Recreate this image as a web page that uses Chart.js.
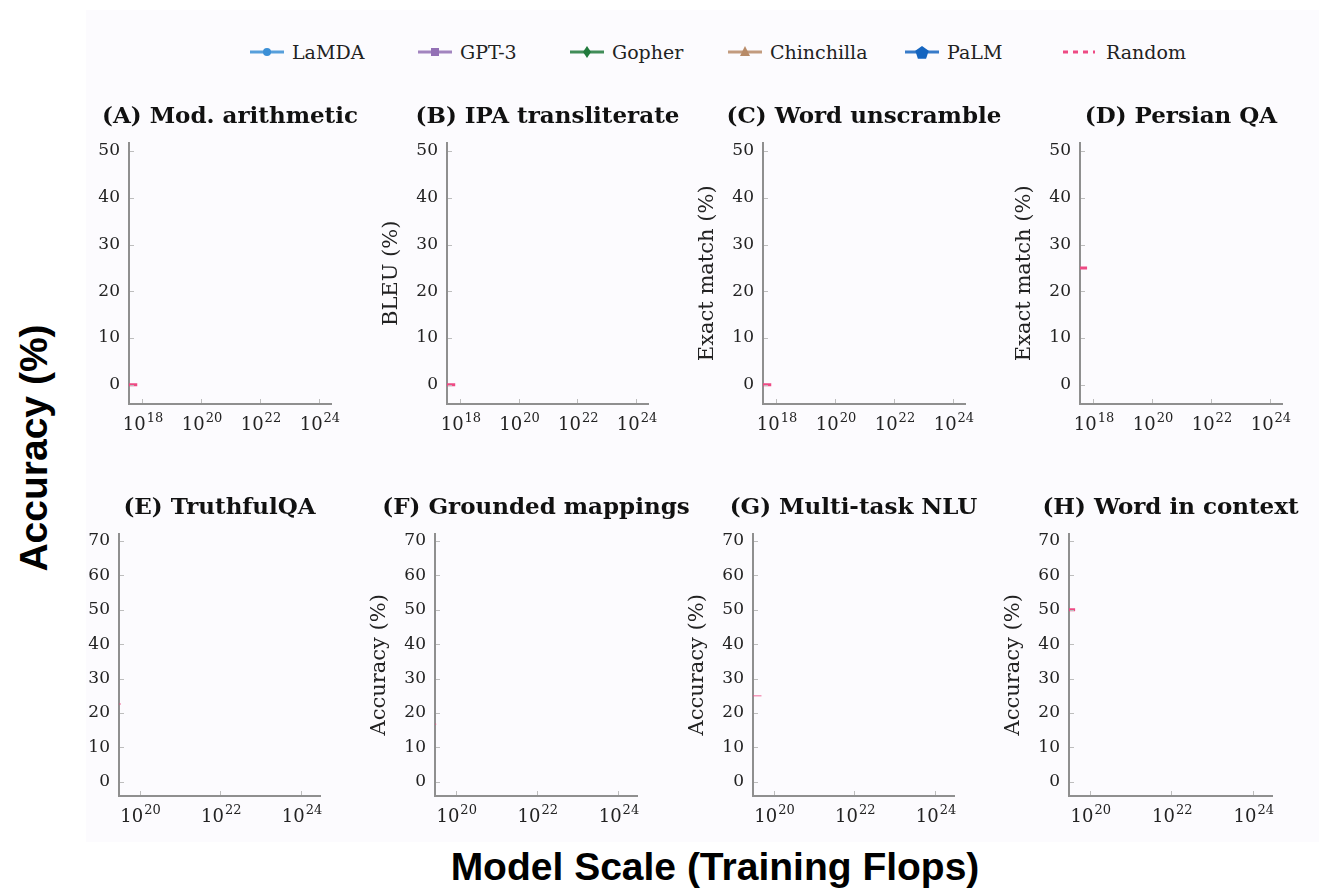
<!DOCTYPE html>
<html>
<head>
<meta charset="utf-8">
<title>Emergent abilities</title>
<script src="https://cdn.jsdelivr.net/npm/chart.js@4.4.0/dist/chart.umd.min.js"></script>
<style>
    body { margin: 0; width: 1319px; height: 890px; background: #fff; position: relative; overflow: hidden; font-family: 'DejaVu Serif', serif; }
    #sheet { position: absolute; left: 86px; top: 10px; width: 1233px; height: 832px; background: #fcfbfe; }
    .panel { position: absolute; }
    .legend-item { position: absolute; top: 40px; height: 24px; display: flex; align-items: center; font-size: 19px; color: #222; white-space: nowrap; }
    .legend-item svg { margin-right: 8px; }
    .big-label { position: absolute; font: bold 39px 'Liberation Sans', Arial, sans-serif; color: #000; white-space: nowrap; transform: translate(-50%, -50%); }
    #yBig { left: 34px; top: 448px; transform: translate(-50%, -50%) rotate(-90deg); }
    #xBig { left: 715px; top: 867px; }
</style>
</head>
<body>
<div id="sheet"></div>
<div id="legend"></div>
<div class="big-label" id="yBig">Accuracy (%)</div>
<div class="big-label" id="xBig">Model Scale (Training Flops)</div>

<script>
// ---- data ----
const panelTitles = ['(A) Mod. arithmetic', '(B) IPA transliterate', '(C) Word unscramble', '(D) Persian QA',
                     '(E) TruthfulQA', '(F) Grounded mappings', '(G) Multi-task NLU', '(H) Word in context'];
const yAxisLabels = ['', 'BLEU (%)', 'Exact match (%)', 'Exact match (%)',
                     '', 'Accuracy (%)', 'Accuracy (%)', 'Accuracy (%)'];

const modelNames = ['LaMDA', 'GPT-3', 'Gopher', 'Chinchilla', 'PaLM'];
const randomLabel = 'Random';

// random-guess baseline of each task (%), and how far (log10 FLOPs) its dash shows
const randomBaseline = [0, 0, 0, 25, 22.6, 16.7, 25, 50];
const randomVisibleTo = [17.84, 17.84, 17.84, 17.8, 19.54, 19.52, 19.7, 19.64];

// axes
const topXTicks = [18, 20, 22, 24];      // exponents
const bottomXTicks = [20, 22, 24];
const topXRange = [17.56, 24.41];
const bottomXRange = [19.49, 24.47];
const topYTicks = [0, 10, 20, 30, 40, 50];
const bottomYTicks = [0, 10, 20, 30, 40, 50, 60, 70];
const topYRange = [-4.1, 51.8];
const bottomYRange = [-4.1, 72.1];

// ---- styling / layout ----
const modelColors = ['#3b8fd6', '#9370b5', '#217a3c', '#b88b68', '#1565c0'];
const modelMarkers = ['circle', 'square', 'diamond', 'triangle', 'pentagon'];
const randomColor = '#ee4a84';
const axisColor = '#8f8f8f';
const serif = "'DejaVu Serif', serif";

// plot frame of every panel: [left, right, top, bottom] in page pixels
const frames = [
    [129, 331, 142, 404], [447, 648, 142, 404], [763, 965, 142, 404], [1080, 1282, 142, 404],
    [119, 320, 533, 796], [435, 637, 533, 796], [753, 954, 533, 796], [1069, 1272, 533, 796]
];
const legendX = [250, 418, 570, 728, 905, 1062];

const Y_W = 68;     // room for tick labels + axis title (mirrored on the right so titles centre on the plot)
const X_H = 40;     // room for x tick labels
const TITLE_H = 44;

// inner tick marks and 10^n tick labels
const axisDecor = {
    id: 'axisDecor',
    afterDraw(chart) {
        const { ctx, chartArea: a, scales: { x, y } } = chart;
        ctx.save();
        ctx.strokeStyle = '#bdbdbd';
        ctx.lineWidth = 1;
        y.ticks.forEach(t => {
            const py = Math.round(y.getPixelForValue(t.value)) + 0.5;
            ctx.beginPath(); ctx.moveTo(a.left + 1, py); ctx.lineTo(a.left + 5, py); ctx.stroke();
        });
        x.ticks.forEach(t => {
            const px = Math.round(x.getPixelForValue(t.value)) + 0.5;
            ctx.beginPath(); ctx.moveTo(px, a.bottom - 1); ctx.lineTo(px, a.bottom - 5); ctx.stroke();
        });

        ctx.fillStyle = '#222';
        ctx.textAlign = 'left';
        ctx.textBaseline = 'alphabetic';
        x.ticks.forEach(t => {
            const px = x.getPixelForValue(t.value);
            const exp = String(Math.round(Math.log10(t.value)));
            ctx.font = '18px ' + serif;
            const w1 = ctx.measureText('10').width;
            ctx.font = '13px ' + serif;
            const w2 = ctx.measureText(exp).width;
            const x0 = px - (w1 + w2 + 1) / 2 + 1;
            ctx.font = '18px ' + serif;
            ctx.fillText('10', x0, a.bottom + 26);
            ctx.font = '13px ' + serif;
            ctx.fillText(exp, x0 + w1 + 1, a.bottom + 18);
        });
        ctx.restore();
    }
};

function markerSvg(kind, color) {
    const cx = 17, cy = 9;
    if (kind === 'circle') return `<circle cx="${cx}" cy="${cy}" r="4" fill="${color}"/>`;
    if (kind === 'square') return `<rect x="${cx - 4}" y="${cy - 4}" width="8" height="8" fill="${color}"/>`;
    if (kind === 'diamond') return `<polygon points="${cx},${cy - 6} ${cx + 4},${cy} ${cx},${cy + 6} ${cx - 4},${cy}" fill="${color}"/>`;
    if (kind === 'triangle') return `<polygon points="${cx},${cy - 6} ${cx + 5},${cy + 4} ${cx - 5},${cy + 4}" fill="${color}"/>`;
    // pentagon
    const pts = [];
    for (let i = 0; i < 5; i++) {
        const ang = -Math.PI / 2 + i * 2 * Math.PI / 5;
        pts.push((cx + 7 * Math.cos(ang)).toFixed(1) + ',' + (cy + 1 + 7 * Math.sin(ang)).toFixed(1));
    }
    return `<polygon points="${pts.join(' ')}" fill="${color}"/>`;
}

function buildLegend() {
    const legend = document.getElementById('legend');
    modelNames.forEach((name, i) => {
        const item = document.createElement('div');
        item.className = 'legend-item';
        item.style.left = legendX[i] + 'px';
        item.innerHTML = `<svg width="34" height="18"><line x1="0" y1="9" x2="34" y2="9" stroke="${modelColors[i]}" stroke-width="3" opacity="0.85"/>${markerSvg(modelMarkers[i], modelColors[i])}</svg>` + name;
        legend.appendChild(item);
    });
    const rnd = document.createElement('div');
    rnd.className = 'legend-item';
    rnd.style.left = legendX[5] + 'px';
    rnd.innerHTML = `<svg width="34" height="18" style="margin-right:10px"><line x1="1" y1="9" x2="33" y2="9" stroke="${randomColor}" stroke-width="3" stroke-dasharray="5 5"/></svg>` + randomLabel;
    legend.appendChild(rnd);
}

function buildPanel(i) {
    const [left, right, top, bottom] = frames[i];
    const isTop = i < 4;
    const xRange = isTop ? topXRange : bottomXRange;
    const xTicks = isTop ? topXTicks : bottomXTicks;
    const yRange = isTop ? topYRange : bottomYRange;
    const yTicks = isTop ? topYTicks : bottomYTicks;

    const box = document.createElement('div');
    box.className = 'panel';
    box.style.left = (left - Y_W) + 'px';
    box.style.top = (top - TITLE_H) + 'px';
    box.style.width = (right - left + 2 * Y_W) + 'px';
    box.style.height = (bottom - top + TITLE_H + X_H) + 'px';
    const canvas = document.createElement('canvas');
    box.appendChild(canvas);
    document.body.appendChild(box);

    // model series: no curve is drawn in this frame of the figure
    const modelSets = modelNames.map((name, m) => ({
        label: name,
        data: [],
        borderColor: modelColors[m],
        backgroundColor: modelColors[m],
        borderWidth: 2.5
    }));

    const strong = isTop || i === 7;
    const randomSet = {
        label: randomLabel,
        data: [
            { x: Math.pow(10, xRange[0]), y: randomBaseline[i] },
            { x: Math.pow(10, randomVisibleTo[i]), y: randomBaseline[i] }
        ],
        borderColor: strong ? randomColor : 'rgba(238,74,132,0.55)',
        borderWidth: strong ? 3 : 1.5,
        borderDash: [9, 4],
        pointRadius: 0
    };

    new Chart(canvas.getContext('2d'), {
        type: 'line',
        data: { datasets: [...modelSets, randomSet] },
        plugins: [axisDecor],
        options: {
            responsive: true,
            maintainAspectRatio: false,
            animation: false,
            layout: { padding: 0 },
            plugins: {
                legend: { display: false },
                tooltip: { enabled: false },
                title: {
                    display: true,
                    text: panelTitles[i],
                    color: '#111',
                    font: { family: serif, size: 23, weight: 'bold' },
                    padding: { top: 5, bottom: 12 }
                }
            },
            scales: {
                x: {
                    type: 'logarithmic',
                    min: Math.pow(10, xRange[0]),
                    max: Math.pow(10, xRange[1]),
                    afterBuildTicks: s => { s.ticks = xTicks.map(e => ({ value: Math.pow(10, e) })); },
                    afterFit: s => { s.height = X_H; },
                    grid: { display: false, drawTicks: false },
                    border: { color: axisColor, width: 2 },
                    ticks: { display: false }
                },
                y: {
                    type: 'linear',
                    min: yRange[0],
                    max: yRange[1],
                    afterBuildTicks: s => { s.ticks = yTicks.map(v => ({ value: v })); },
                    afterFit: s => { s.width = Y_W; },
                    grid: { display: false, drawTicks: false },
                    border: { color: axisColor, width: 2 },
                    ticks: { color: '#222', padding: 9, font: { family: serif, size: 17 } },
                    title: {
                        display: yAxisLabels[i] !== '',
                        text: yAxisLabels[i],
                        color: '#222',
                        padding: 0,
                        font: { family: serif, size: 21 }
                    }
                },
                // empty spacer on the right so the panel title centres over the plot
                spacer: {
                    type: 'linear',
                    position: 'right',
                    afterFit: s => { s.width = Y_W; },
                    grid: { display: false, drawTicks: false },
                    border: { display: false },
                    ticks: { display: false }
                }
            }
        }
    });
}

document.addEventListener('DOMContentLoaded', () => {
    buildLegend();
    panelTitles.forEach((t, i) => buildPanel(i));
});
</script>
</body>
</html>
